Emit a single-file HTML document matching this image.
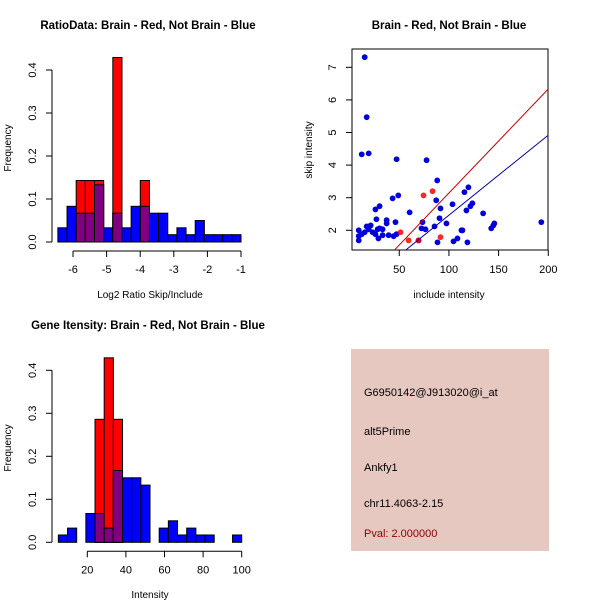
<!DOCTYPE html>
<html><head><meta charset="utf-8"><style>
body{margin:0;background:#fff;}
svg{display:block;font-family:"Liberation Sans",sans-serif;}
</style></head><body>
<svg id="c" width="600" height="600" viewBox="0 0 600 600">
<rect width="600" height="600" fill="#fff"/>
<text x="148" y="29" text-anchor="middle" font-size="11.5" font-weight="bold">RatioData: Brain - Red, Not Brain - Blue</text>
<text x="449" y="29" text-anchor="middle" font-size="11.5" font-weight="bold">Brain - Red, Not Brain - Blue</text>
<text x="148" y="329" text-anchor="middle" font-size="11.5" font-weight="bold">Gene Itensity: Brain - Red, Not Brain - Blue</text>
<text x="150" y="298" text-anchor="middle" font-size="10">Log2 Ratio Skip/Include</text>
<text x="150" y="598" text-anchor="middle" font-size="10">Intensity</text>
<text x="449" y="298" text-anchor="middle" font-size="10">include intensity</text>
<text transform="translate(11,148) rotate(-90)" text-anchor="middle" font-size="10">Frequency</text>
<text transform="translate(11,448) rotate(-90)" text-anchor="middle" font-size="10">Frequency</text>
<text transform="translate(312,150) rotate(-90)" text-anchor="middle" font-size="10">skip intensity</text>
<g>
<rect x="351" y="349" width="198" height="202" fill="#e6c8c1"/>
<text x="364" y="396" font-size="11">G6950142@J913020@i_at</text>
<text x="364" y="435" font-size="11">alt5Prime</text>
<text x="364" y="471" font-size="11">Ankfy1</text>
<text x="364" y="507" font-size="11">chr11.4063-2.15</text>
<text x="364" y="537" font-size="11" fill="#8b0000">Pval: 2.000000</text>
</g>
</svg>
<script>
const ratioBinStart=-6.45, ratioBinWidth=0.2725;
const ratioBlue=[0.033,0.083,0.067,0.067,0.133,0.033,0.067,0.033,0.083,0.083,0.067,0.067,0.017,0.033,0.017,0.05,0.017,0.017,0.017,0.017];
const ratioRed=[0,0,0.143,0.143,0.143,0,0.429,0,0,0.143,0,0,0,0,0,0,0,0,0,0];
const ratioXTicks=[-6,-5,-4,-3,-2,-1];
const freqTicks=[0,0.1,0.2,0.3,0.4];
const intBinStart=5, intBinWidth=4.75;
const intBlue=[0.017,0.033,0,0.067,0.067,0.033,0.167,0.15,0.15,0.133,0,0.033,0.05,0.017,0.033,0.017,0.017,0,0,0.017];
const intRed=[0,0,0,0,0.286,0.429,0.286,0,0,0,0,0,0,0,0,0,0,0,0,0];
const intXTicks=[20,40,60,80,100];
const blueX=[15.2,17.2,12.2,19.2,47.3,77.5,88.2,119.6,115.6,49,43.3,87.2,91.5,103.6,123.6,121.6,117.6,134.4,30.2,26,60.4,27,37.3,37.3,46.2,73.4,90.5,97.5,145.7,144.7,193,85.5,72.4,76.4,112.6,113.6,142.6,9.2,17.2,21.2,19.2,23.2,28.2,30.2,33.2,15.2,12.2,9.2,9.2,26,29,33.2,39.3,44.3,47.3,104.6,108.6,88.5,118.6,69.4];
const blueY=[7.31,5.47,4.33,4.36,4.18,4.15,3.53,3.32,3.17,3.07,2.98,2.92,2.67,2.80,2.83,2.74,2.61,2.52,2.74,2.64,2.55,2.34,2.31,2.21,2.25,2.25,2.37,2.21,2.21,2.15,2.25,2.12,2.06,2.03,2.00,2.00,2.06,2.00,2.12,2.15,2.03,1.94,2.03,2.06,2.03,1.94,1.88,1.82,1.69,1.88,1.75,1.85,1.85,1.82,1.88,1.66,1.75,1.63,1.63,1.69];
const redX=[74.4,83.5,51.3,59.4,91.5,69.4];
const redY=[3.07,3.20,1.94,1.69,1.79,1.69];
const redLine=[0.0319,-0.046];
const blueLine=[0.02456,0.007];
const scXTicks=[50,100,150,200];
const scYTicks=[2,3,4,5,6,7];

const svg=document.getElementById('c');
const NS='http://www.w3.org/2000/svg';
function mk(t,a,p){const e=document.createElementNS(NS,t);for(const k in a)e.setAttribute(k,a[k]);(p||svg).appendChild(e);return e;}

function hist(prefix,x0px,x0v,pxPerUnit,y0,blue,red,start,w,xticks,labels){
  const g=mk('g',{});
  
  
  const X=v=>x0px+(v-x0v)*pxPerUnit, Y=v=>y0-v*430;
  for(let i=0;i<blue.length;i++){
    const a=X(start+i*w), b=X(start+(i+1)*w);
    const bl=blue[i], rd=red[i], m=Math.min(bl,rd);
    if(bl>0){const r=mk('rect',{x:a,y:Y(bl),width:b-a,height:Y(0)-Y(bl),fill:'#0000ff',stroke:'#000','stroke-width':1},g);
      
      }
    if(rd>0){const r=mk('rect',{x:a,y:Y(rd),width:b-a,height:Y(0)-Y(rd),fill:'#ff0000',stroke:'#000','stroke-width':1},g);
      
      }
    if(m>0){const r=mk('rect',{x:a,y:Y(m),width:b-a,height:Y(0)-Y(m),fill:'#800080',stroke:'#000','stroke-width':1},g);
      
      }
  }
  const ya=y0+9;
  mk('line',{x1:X(xticks[0]),x2:X(xticks[xticks.length-1]),y1:ya,y2:ya,stroke:'#000'},g);
  xticks.forEach((t,i)=>{mk('line',{x1:X(t),x2:X(t),y1:ya,y2:ya+6,stroke:'#000'},g);
    const tx=mk('text',{x:X(t),y:ya+22,'text-anchor':'middle','font-size':11},g);tx.textContent=labels[i];});
  mk('line',{x1:52,x2:52,y1:Y(0),y2:Y(0.4),stroke:'#000'},g);
  freqTicks.forEach(t=>{mk('line',{x1:46,x2:52,y1:Y(t),y2:Y(t),stroke:'#000'},g);
    const tx=mk('text',{transform:`translate(36,${Y(t)}) rotate(-90)`,'text-anchor':'middle','font-size':11},g);tx.textContent=t.toFixed(1);});
}
hist('ratio',73,-6,33.6,242,ratioBlue,ratioRed,ratioBinStart,ratioBinWidth,ratioXTicks,ratioXTicks.map(String));
hist('intensity',87.3,20,1.93,542.3,intBlue,intRed,intBinStart,intBinWidth,intXTicks,intXTicks.map(String));

const sg=mk('g',{});


const SX=v=>349.6+v*0.9933, SY=v=>230.3-(v-2)*32.6;
const defs=mk('defs',{},sg);
const cp=mk('clipPath',{id:'sc'},defs);
mk('rect',{x:352,y:49,width:196,height:201},cp);
mk('rect',{x:352,y:49,width:196,height:201,fill:'none',stroke:'#000'},sg);
const pg=mk('g',{'clip-path':'url(#sc)'},sg);
blueX.forEach((v,i)=>{const c=mk('circle',{cx:SX(v),cy:SY(blueY[i]),r:2.9,fill:'#0000dd'},pg);
  
  });
redX.forEach((v,i)=>{const c=mk('circle',{cx:SX(v),cy:SY(redY[i]),r:2.9,fill:'#ff0000','fill-opacity':0.85},pg);
  
  });
[[redLine,'#cc0000','red-fit-line'],[blueLine,'#0000aa','blue-fit-line']].forEach(([L,col,n])=>{
  const l=mk('line',{x1:SX(0),y1:SY(L[1]),x2:SX(210),y2:SY(L[0]*210+L[1]),stroke:col,'stroke-width':1},pg);
  
  });
mk('line',{x1:SX(50),x2:SX(200),y1:250,y2:250,stroke:'#000'},sg);
scXTicks.forEach(t=>{mk('line',{x1:SX(t),x2:SX(t),y1:250,y2:256,stroke:'#000'},sg);
  const tx=mk('text',{x:SX(t),y:273,'text-anchor':'middle','font-size':11},sg);tx.textContent=t;});
scYTicks.forEach(t=>{mk('line',{x1:346,x2:352,y1:SY(t),y2:SY(t),stroke:'#000'},sg);
  const tx=mk('text',{transform:`translate(336,${SY(t)}) rotate(-90)`,'text-anchor':'middle','font-size':11},sg);tx.textContent=t;});
</script>
</body></html>
